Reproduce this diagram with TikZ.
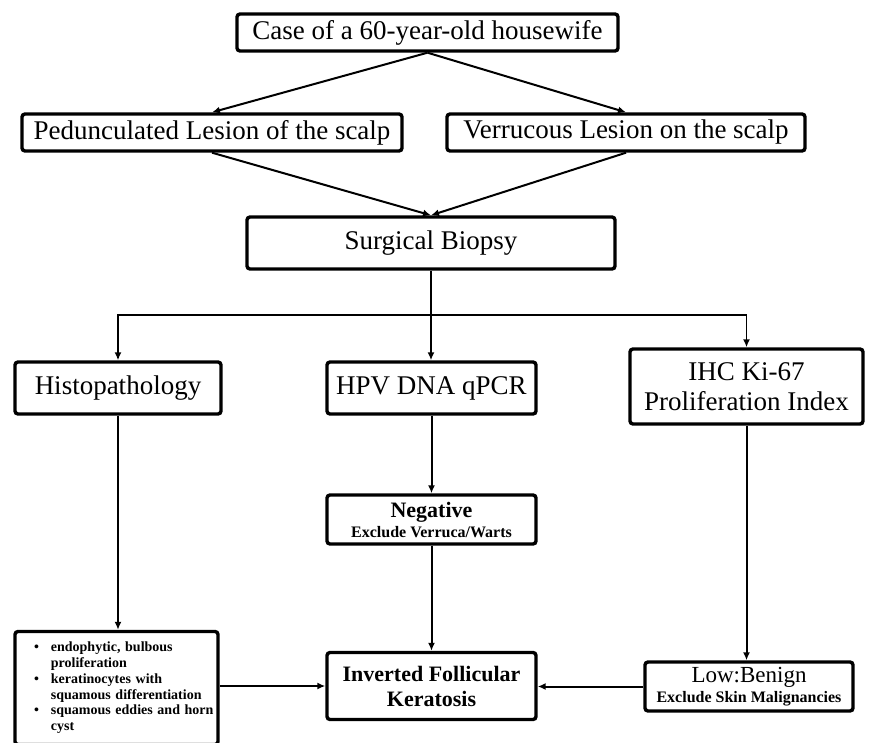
\documentclass[tikz,border=0pt]{standalone}
\usepackage{fontspec}
\setmainfont{Liberation Serif}
\usetikzlibrary{arrows.meta}
\begin{document}
\begin{tikzpicture}[x=1pt,y=-1pt,
  >={Latex[length=8pt,width=7pt]},
  box/.style={draw,line width=3.4pt,rounded corners=3pt,align=center,inner sep=2pt,
    font=\fontsize{27}{30}\selectfont},
  conn/.style={->,line width=2pt}]
  \useasboundingbox (0,0) rectangle (870,742);
  % Case and lesions
  \node[box,minimum width=381pt,minimum height=37pt] (case) at (427.5,32.5) {Case of a 60-year-old housewife};
  \node[box,minimum width=380pt,minimum height=37pt] (ped) at (212,132.5) {Pedunculated Lesion of the scalp};
  \node[box,minimum width=358pt,minimum height=37pt] (verr) at (626,132.5) {Verrucous Lesion on the scalp};
  \node[box,minimum width=368pt,minimum height=52pt] (biopsy) at (431,243) {Surgical Biopsy};
  \draw[conn] (case.south) -- (ped.north);
  \draw[conn] (case.south) -- (verr.north);
  \draw[conn] (ped.south) -- (biopsy.north);
  \draw[conn] (verr.south) -- (biopsy.north);
  % Three tests
  \node[box,minimum width=206pt,minimum height=52pt] (histo) at (118,388) {Histopathology};
  \node[box,minimum width=209pt,minimum height=52pt] (hpv) at (431.5,388) {HPV DNA qPCR};
  \node[box,minimum width=233pt,minimum height=75pt] (ihc) at (746.5,386.5) {IHC Ki-67\\Proliferation Index};
  \coordinate (split) at (431,315);
  \draw[conn] (biopsy.south) -- (biopsy.south |- hpv.north);
  \draw[<->,line width=1.5pt] (histo.north) |- (split) -| (ihc.north);
  % Findings
  \node[box,minimum width=209pt,minimum height=49pt,font=\fontsize{16}{20}\selectfont\bfseries] (neg) at (431.5,519.5)
    {{\fontsize{22}{22}\selectfont Negative}\\Exclude Verruca/Warts};
  \node[box,text width=197pt,inner xsep=3pt,minimum height=113pt,align=left,
    font=\fontsize{14}{15.7}\selectfont\bfseries] (list) at (116.5,688)
    {\begin{tabular}{@{\hspace{16pt}}l@{\hspace{12pt}}l@{}}
      \textbullet & endophytic, bulbous\\
                  & proliferation\\
      \textbullet & keratinocytes with\\
                  & squamous differentiation\\
      \textbullet & squamous eddies and horn\\
                  & cyst
    \end{tabular}};
  \node[box,minimum width=208pt,minimum height=49pt,font=\fontsize{16}{20}\selectfont\bfseries] (low) at (749,686.5)
    {{\fontsize{23}{23}\selectfont\mdseries Low:Benign}\\Exclude Skin Malignancies};
  \node[box,minimum width=209pt,minimum height=67pt,font=\fontsize{22}{25}\selectfont\bfseries] (ifk) at (431.5,686)
    {Inverted Follicular\\Keratosis};
  \draw[conn] (hpv) -- (neg);
  \draw[conn] (neg) -- (ifk);
  \draw[conn] (histo.south) -- (histo.south |- list.north);
  \draw[conn] (ihc.south) -- (ihc.south |- low.north);
  \draw[conn] (list.east |- ifk.west) -- (ifk.west);
  \draw[conn] (low.west) -- (low.west -| ifk.east);
\end{tikzpicture}
\end{document}
